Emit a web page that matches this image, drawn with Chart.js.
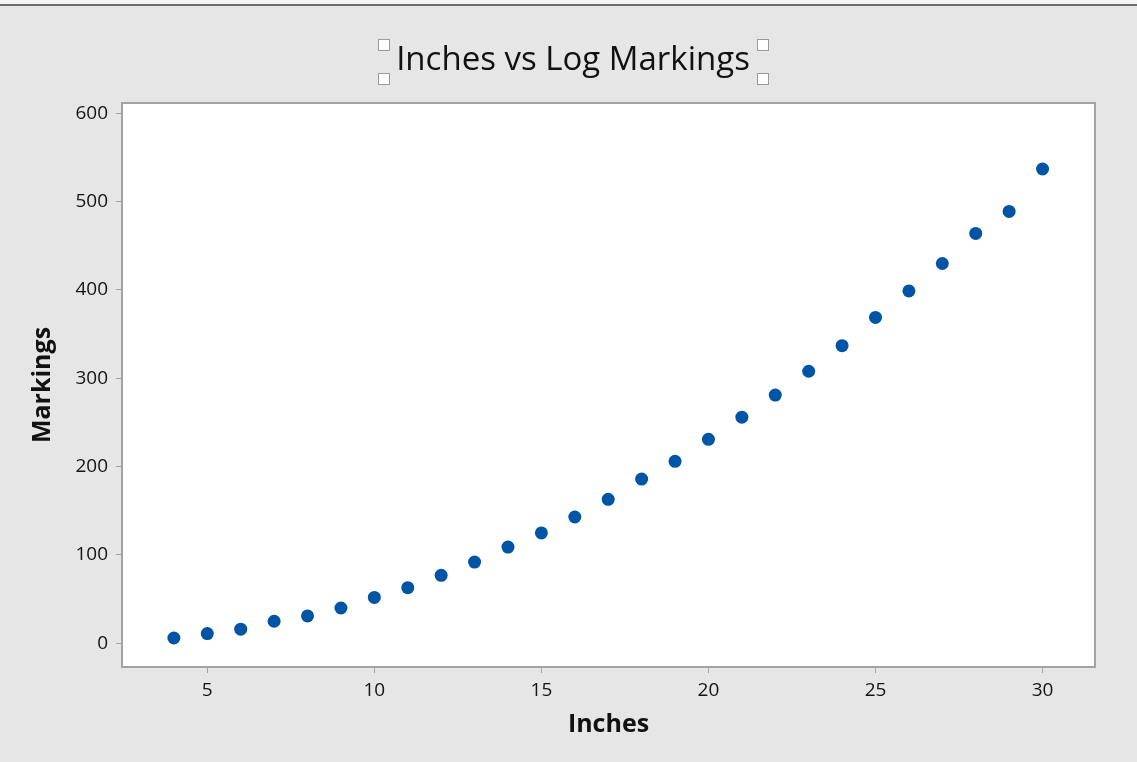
<!DOCTYPE html>
<html>
<head>
<meta charset="utf-8">
<script src="https://cdn.jsdelivr.net/npm/chart.js@4.4.1/dist/chart.umd.min.js"></script>
<style>
  html, body { margin: 0; padding: 0; background: #e6e6e6; }
  #wrap { width: 1137px; height: 762px; position: relative; }
  canvas { display: block; }
</style>
</head>
<body>
<div id="wrap"><canvas id="c" width="1137" height="762"></canvas></div>
<script>
// Scatter data: inches against log markings
const inches = [4, 5, 6, 7, 8, 9, 10, 11, 12, 13, 14, 15, 16, 17, 18, 19, 20, 21, 22, 23, 24, 25, 26, 27, 28, 29, 30];
const markings = [6, 11, 16, 25, 31, 40, 52, 63, 77, 92, 109, 125, 143, 163, 186, 206, 231, 256, 281, 308, 337, 369, 399, 430, 464, 489, 537];
const xTicks = [5, 10, 15, 20, 25, 30];
const yTicks = [0, 100, 200, 300, 400, 500, 600];
const chartTitle = 'Inches vs Log Markings';
const xTitle = 'Inches';
const yTitle = 'Markings';

const FONT = '"Open Sans", "Noto Sans", "DejaVu Sans", sans-serif';
const FRAME = '#a3a3a3';

// Page background, window edge, white plot panel and its frame, title with selection handles
const decor = {
  id: 'decor',
  beforeDraw(chart) {
    const { ctx, chartArea: a, width } = chart;
    ctx.save();
    ctx.fillStyle = '#e6e6e6';
    ctx.fillRect(0, 0, width, chart.height);
    ctx.fillStyle = '#f4f4f4';
    ctx.fillRect(0, 0, width, 4);
    ctx.fillStyle = '#6c6c6c';
    ctx.fillRect(0, 4, width, 2);
    ctx.fillStyle = '#ffffff';
    ctx.fillRect(a.left, a.top, a.right - a.left, a.bottom - a.top);
    ctx.restore();
  },
  afterDraw(chart) {
    const { ctx, chartArea: a } = chart;
    ctx.save();
    ctx.strokeStyle = FRAME;
    ctx.lineWidth = 2;
    ctx.strokeRect(a.left, a.top, a.right - a.left, a.bottom - a.top);

    // title
    ctx.font = '33px ' + FONT;
    ctx.fillStyle = '#111111';
    ctx.textAlign = 'center';
    ctx.textBaseline = 'alphabetic';
    ctx.fillText(chartTitle, 573, 70);

    // selection handles around the title
    const hs = 11;
    ctx.lineWidth = 1;
    ctx.strokeStyle = '#9a9a9a';
    ctx.fillStyle = '#ffffff';
    [[378, 39], [378, 73], [757, 39], [757, 73]].forEach(([x, y]) => {
      ctx.fillRect(x + 0.5, y + 0.5, hs, hs);
      ctx.strokeRect(x + 0.5, y + 0.5, hs, hs);
    });
    ctx.restore();
  }
};

new Chart(document.getElementById('c'), {
  type: 'scatter',
  data: {
    datasets: [{
      data: inches.map((x, i) => ({ x, y: markings[i] })),
      backgroundColor: '#0054a6',
      borderColor: '#0054a6',
      pointRadius: 6.5,
      pointHoverRadius: 6.5,
      borderWidth: 0
    }]
  },
  options: {
    responsive: false,
    animation: false,
    events: [],
    layout: { padding: { left: 0, right: 42, top: 103, bottom: 0 } },
    plugins: { legend: { display: false }, tooltip: { enabled: false }, title: { display: false } },
    scales: {
      x: {
        type: 'linear',
        min: 2.447,
        max: 31.57,
        afterFit(s) { s.height = 95; },
        afterBuildTicks(s) { s.ticks = xTicks.map(v => ({ value: v })); },
        border: { display: false },
        grid: { display: true, drawOnChartArea: false, drawTicks: true, tickLength: 6, color: FRAME, lineWidth: 1 },
        ticks: { color: '#141414', font: { family: FONT, size: 19 }, padding: 6, maxRotation: 0 },
        title: { display: true, text: xTitle, color: '#111111', font: { family: FONT, size: 25, weight: 'bold' }, padding: { top: 0, bottom: 22 } }
      },
      y: {
        type: 'linear',
        min: -26.8,
        max: 611.7,
        afterFit(s) { s.width = 122; },
        afterBuildTicks(s) { s.ticks = yTicks.map(v => ({ value: v })); },
        border: { display: false },
        grid: { display: true, drawOnChartArea: false, drawTicks: true, tickLength: 6, color: FRAME, lineWidth: 1 },
        ticks: { color: '#141414', font: { family: FONT, size: 19 }, padding: 8 },
        title: { display: true, text: yTitle, color: '#111111', font: { family: FONT, size: 25, weight: 'bold' }, padding: { top: 28, bottom: 0 } }
      }
    }
  },
  plugins: [decor]
});
</script>
</body>
</html>
